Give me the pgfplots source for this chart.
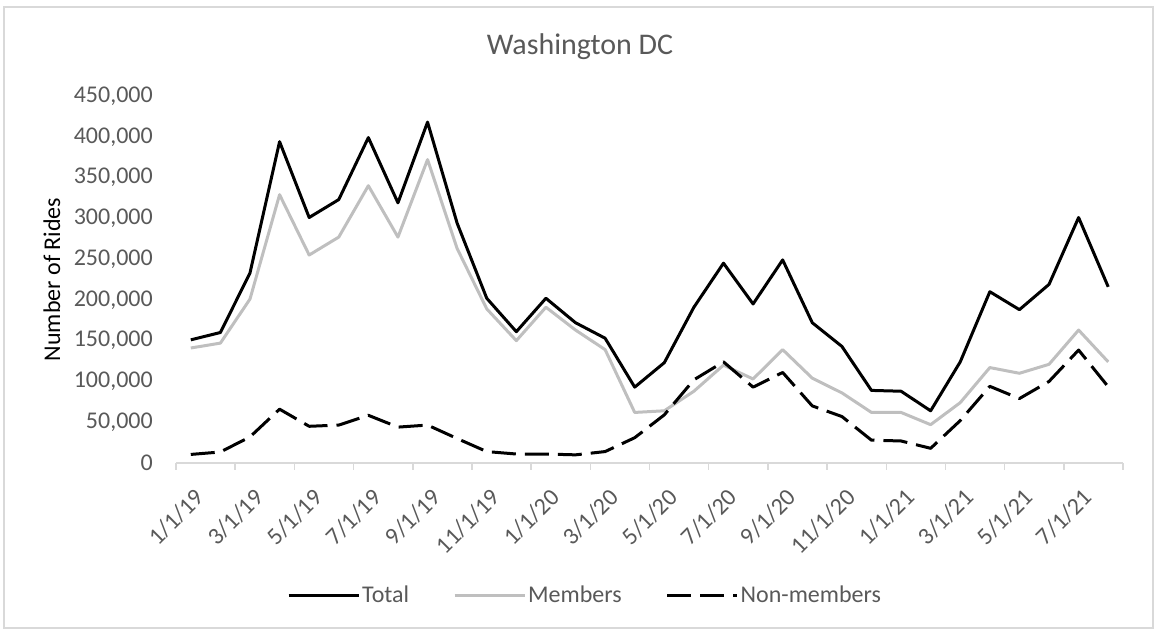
\documentclass[border=0pt]{standalone}
\usepackage{pgfplots}
\pgfplotsset{compat=1.18}
\usepackage{fontspec}
\setmainfont{Carlito}
\definecolor{txt}{HTML}{595959}
\definecolor{axgray}{HTML}{D9D9D9}
\definecolor{memgray}{HTML}{BFBFBF}
\newcommand{\tickfont}{\fontsize{24}{28}\selectfont}
\begin{document}
\begin{tikzpicture}[x=1pt,y=1pt]
\path[use as bounding box] (0,0) rectangle (1156,631);
\draw[axgray, line width=1.5pt] (4,3) rectangle (1153,624);
\begin{axis}[
 at={(176pt,168pt)}, anchor=south west,
 width=947pt, height=367pt, scale only axis,
 xmin=-0.5, xmax=31.5, ymin=0, ymax=450000,
 axis x line*=bottom, axis y line*=left,
 y axis line style={draw=none},
 x axis line style={axgray, line width=1.5pt},
 xtick={0,2,...,30},
 xticklabels={1/1/19,3/1/19,5/1/19,7/1/19,9/1/19,11/1/19,1/1/20,3/1/20,5/1/20,7/1/20,9/1/20,11/1/20,1/1/21,3/1/21,5/1/21,7/1/21},
 minor xtick={-0.5,1.5,...,31.5},
 major tick length=0pt,
 minor tick length=7pt,
 minor x tick style={axgray, line width=1.5pt},
 tick align=outside,
 ytick={0,50000,...,450000},
 scaled y ticks=false,
 /pgf/number format/fixed,
 /pgf/number format/assume math mode=true,
 /pgf/number format/1000 sep={,},
 xticklabel style={xshift=3pt, yshift=-24pt, rotate=45, anchor=north east, inner sep=0pt, font=\tickfont, text=txt},
 yticklabel style={anchor=east, inner sep=0pt, xshift=-23pt, font=\tickfont, text=txt},
 ylabel={Number of Rides},
 ylabel style={at={(axis description cs:-0.1310,0.5)}, anchor=center, font=\tickfont, text=black},
 title={Washington DC},
 title style={at={(axis description cs:0.4266,1.117)}, anchor=center, font=\fontsize{30}{35}\selectfont, text=txt},
 legend columns=3,
 legend style={at={(axis description cs:0.432,-0.3597)}, anchor=center, draw=none, fill=none, font=\tickfont, text=txt, /tikz/every even column/.append style={column sep=42pt}},
 legend image code/.code={\draw[#1] (0pt,0pt) -- (70pt,0pt);},
 clip=false,
]
\addplot[black, line width=3pt, line join=round] coordinates {
(0,151000) (1,160000) (2,233000) (3,394000) (4,301000) (5,323000) (6,399000) (7,319000)
(8,418000) (9,294000) (10,202000) (11,161000) (12,202000) (13,172000) (14,153000) (15,93000)
(16,123000) (17,191000) (18,245000) (19,195000) (20,249000) (21,172000) (22,143000) (23,89000)
(24,88000) (25,64000) (26,124000) (27,210000) (28,188000) (29,219000) (30,301000) (31,216000)};
\addlegendentry{Total}
\addplot[memgray, line width=3pt, line join=round] coordinates {
(0,141000) (1,147000) (2,201000) (3,329000) (4,255000) (5,277000) (6,340000) (7,277000)
(8,372000) (9,263000) (10,189000) (11,150000) (12,191000) (13,163000) (14,139000) (15,62000)
(16,64000) (17,88000) (18,120000) (19,103000) (20,139000) (21,104000) (22,86000) (23,62000)
(24,62000) (25,47000) (26,74000) (27,117000) (28,110000) (29,121000) (30,163000) (31,124000)};
\addlegendentry{Members}
\addplot[black, line width=3pt, line join=round, dash pattern=on 24pt off 9pt] coordinates {
(0,10500) (1,13500) (2,32000) (3,66000) (4,45000) (5,46500) (6,58500) (7,44000)
(8,46500) (9,30000) (10,14000) (11,11000) (12,11000) (13,10000) (14,14000) (15,31000)
(16,59000) (17,102000) (18,124000) (19,93000) (20,111000) (21,70000) (22,57000) (23,28000)
(24,27000) (25,18000) (26,52000) (27,94000) (28,79000) (29,100000) (30,138500) (31,93500)};
\addlegendentry{Non-members}
\end{axis}
\end{tikzpicture}
\end{document}
